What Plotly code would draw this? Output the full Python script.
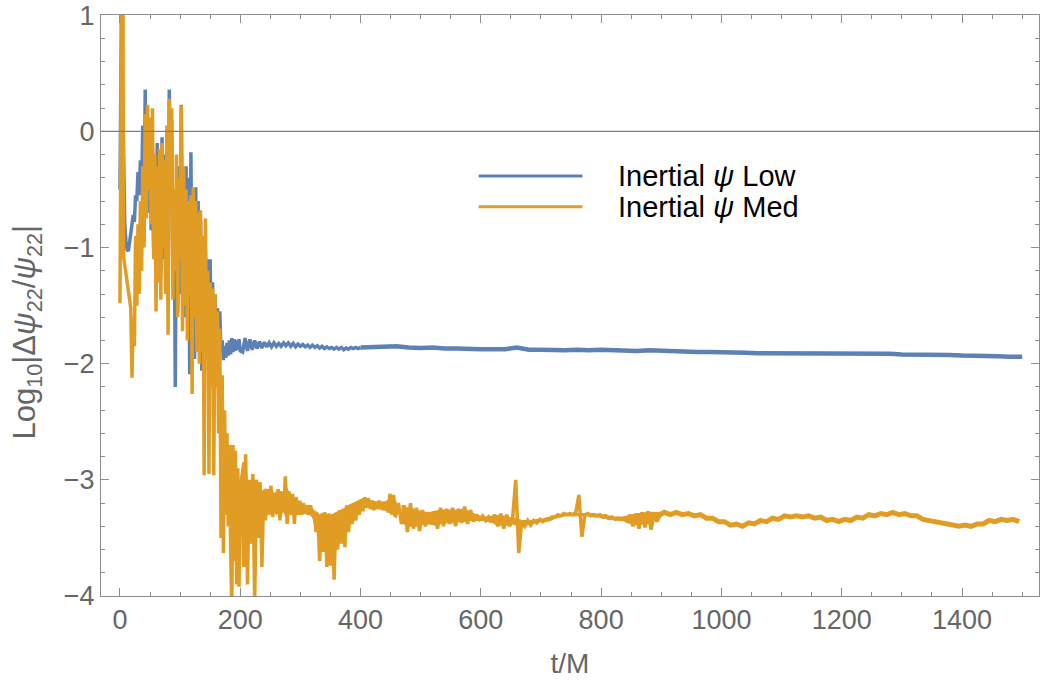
import numpy as np
import plotly.graph_objects as go

# ---------------- data: log10 |Δψ22/ψ22| versus t/M ----------------
# Inertial ψ, Low resolution
t_low_early = [0, 1, 3, 4, 5, 6] + list(range(8, 201, 2))
low_early = [
    -0.5, 1.3, 1.3, 0.45, 0.1, -0.5,
    -0.8, -0.95, -1.02, -1.03, -0.97, -0.88, -0.8, -0.72, -0.78, -0.55,
    -0.6, -0.35, -0.55, -0.25, -0.5, 0.05, -0.95, 0.36, -0.55, -0.2,
    -0.7, -0.1, -0.85, -0.15, -1.0, -0.2, -1.15, -0.1, -0.9, -0.3,
    -1.2, -0.05, -1.1, -0.2, -1.25, 0.0, -1.3, 0.36, -0.4, 0.1,
    -1.3, -0.5, -2.2, -0.6, -1.55, -0.3, -1.4, 0.23, -1.2, -0.4,
    -1.6, -0.3, -1.5, -0.4, -2.09, -0.18, -1.7, -0.5, -1.96, -0.48,
    -1.8, -0.6, -1.7, -0.77, -2.06, -0.9, -1.8, -1.0, -1.9, -1.1,
    -2.33, -1.1, -1.9, -1.3, -2.0, -1.4, -1.9, -1.52, -1.95, -1.55,
    -1.9, -1.8, -1.97, -1.85, -1.95, -1.82, -1.93, -1.8, -1.92, -1.78,
    -1.9, -1.79, -1.89, -1.8, -1.88, -1.79, -1.89,
]
t_low_mid = list(range(204, 401, 4))
low_mid = [
    -1.9, -1.78, -1.89, -1.79, -1.88, -1.8, -1.87, -1.81, -1.865, -1.815,
    -1.855, -1.82, -1.855, -1.82, -1.85, -1.825, -1.85, -1.82, -1.845, -1.82,
    -1.85, -1.825, -1.855, -1.83, -1.85, -1.835, -1.855, -1.84, -1.86, -1.84,
    -1.86, -1.845, -1.865, -1.85, -1.87, -1.855, -1.87, -1.86, -1.875, -1.86,
    -1.875, -1.86, -1.88, -1.865, -1.875, -1.86, -1.87, -1.86, -1.87, -1.86,
]
t_low_late = list(range(420, 1501, 20))
low_late = [
    -1.855, -1.85, -1.85, -1.86, -1.865, -1.86, -1.87, -1.87, -1.875, -1.875,
    -1.875, -1.875, -1.86, -1.88, -1.88, -1.885, -1.885, -1.88, -1.885, -1.88,
    -1.885, -1.89, -1.89, -1.885, -1.89, -1.895, -1.895, -1.9, -1.9, -1.9,
    -1.905, -1.905, -1.91, -1.91, -1.91, -1.91, -1.91, -1.91, -1.915, -1.915,
    -1.915, -1.915, -1.915, -1.915, -1.92, -1.92, -1.92, -1.925, -1.925, -1.93,
    -1.93, -1.935, -1.935, -1.94, -1.94,
]

# Inertial ψ, Medium resolution
t_med_early = [0, 1, 2, 3, 5, 6] + list(range(8, 201, 2))
med_early = [
    -1.48, 0.25, -0.5, 1.3, 1.3, -1.08,
    -1.15, -1.22, -1.3, -1.38, -1.45, -1.52, -2.12, -1.6, -1.85, -0.9,
    -1.5, -0.8, -1.4, -0.6, -1.2, -0.3, -1.0, 0.15, -0.75, 0.23,
    -0.5, 0.12, -0.8, 0.2, -1.1, -0.2, -1.55, -0.3, -1.3, -0.15,
    -1.45, -0.1, -1.0, -0.25, -1.4, 0.05, -1.75, 0.28, -0.6, 0.2,
    -1.45, -0.5, -1.2, -0.2, -1.6, -0.4, -1.1, 0.22, -1.72, -0.3,
    -1.5, -0.5, -1.8, -0.6, -1.4, -0.55, -2.26, -0.48, -1.6, -0.6,
    -1.9, -0.7, -2.0, -0.68, -1.9, -0.9, -2.96, -0.75, -1.95, -1.2,
    -2.95, -1.3, -2.2, -1.35, -2.96, -1.4, -2.2, -1.55, -2.6, -1.7,
    -3.5, -2.1, -3.63, -2.4, -3.3, -2.6, -3.4, -2.7, -3.6, -4.1,
    -2.7, -3.7, -2.75, -3.9, -2.9, -3.92, -3.0,
]
t_med_mid = list(range(203, 459, 3))
med_mid = [
    -3.05, -3.75, -2.78, -3.9, -3.0, -3.55, -2.95, -4.05, -3.0, -3.5,
    -3.02, -3.75, -3.1, -3.35, -3.08, -3.3, -3.05, -3.32, -3.12, -3.25,
    -3.08, -3.35, -3.1, -3.28, -2.97, -3.38, -3.1, -3.3, -3.12, -3.38,
    -3.15, -3.3, -3.18, -3.3, -3.2, -3.28, -3.22, -3.3, -3.22, -3.3,
    -3.27, -3.45, -3.3, -3.7, -3.3, -3.62, -3.28, -3.75, -3.32, -3.74,
    -3.3, -3.86, -3.3, -3.6, -3.26, -3.55, -3.25, -3.58, -3.22, -3.45,
    -3.25, -3.38, -3.2, -3.35, -3.22, -3.3, -3.17, -3.27, -3.15, -3.23,
    -3.16, -3.24, -3.18, -3.26, -3.19, -3.24, -3.18, -3.25, -3.2, -3.24,
    -3.19, -3.28, -3.12, -3.3, -3.13, -3.32,
]
t_med_tail = list(range(463, 899, 5))
med_tail = [
    -3.2, -3.38, -3.22, -3.45, -3.2, -3.42, -3.24, -3.44, -3.26, -3.4,
    -3.28, -3.38, -3.27, -3.42, -3.24, -3.4, -3.25, -3.38, -3.24, -3.4,
    -3.25, -3.37, -3.23, -3.38, -3.26, -3.36, -3.3, -3.34, -3.31, -3.35,
    -3.32, -3.36, -3.3, -3.4, -3.29, -3.42, -3.3, -3.4, -3.32, -3.0,
    -3.63, -3.36, -3.4, -3.35, -3.39, -3.35, -3.37, -3.34, -3.36, -3.34,
    -3.34, -3.32, -3.32, -3.3, -3.31, -3.29, -3.3, -3.29, -3.3, -3.28,
    -3.13, -3.49, -3.3, -3.29, -3.31, -3.3, -3.31, -3.3, -3.32, -3.31,
    -3.33, -3.32, -3.34, -3.33, -3.34, -3.33, -3.35, -3.3, -3.4, -3.29,
    -3.42, -3.28, -3.41, -3.27, -3.43, -3.29, -3.36, -3.3,
]
t_med_late = list(range(905, 1496, 10))
med_late = [
    -3.28, -3.30, -3.28, -3.30, -3.29, -3.31, -3.30, -3.33, -3.33, -3.36,
    -3.36, -3.39, -3.38, -3.40, -3.37, -3.38, -3.35, -3.36, -3.33, -3.34,
    -3.31, -3.32, -3.31, -3.32, -3.31, -3.33, -3.32, -3.35, -3.34, -3.36,
    -3.34, -3.35, -3.32, -3.33, -3.30, -3.31, -3.29, -3.30, -3.28, -3.30,
    -3.29, -3.31, -3.31, -3.34, -3.35, -3.37, -3.37, -3.39, -3.39, -3.40,
    -3.39, -3.40, -3.38, -3.38, -3.35, -3.36, -3.34, -3.35, -3.34, -3.36,
]

# dense oscillation core of the Med run (upper / lower edge of the filled band)
t_core_a = list(range(200, 461, 4))
core_a_hi = [
    -3.0, -2.85, -2.85, -3.0, -3.05, -3.0, -3.02, -3.0, -3.05, -3.1,
    -3.08, -3.08, -3.1, -3.08, -3.12, -3.1, -3.1, -3.1, -3.12, -3.05,
    -3.1, -3.12, -3.14, -3.16, -3.18, -3.2, -3.21, -3.22, -3.22, -3.23,
    -3.25, -3.27, -3.28, -3.3, -3.29, -3.28, -3.3, -3.29, -3.3, -3.29,
    -3.28, -3.27, -3.26, -3.25, -3.23, -3.22, -3.21, -3.2, -3.19, -3.18,
    -3.17, -3.16, -3.16, -3.17, -3.18, -3.18, -3.19, -3.19, -3.19, -3.19,
    -3.19, -3.18, -3.16, -3.16, -3.17, -3.19,
]
core_a_lo = [
    -3.3, -3.4, -3.45, -3.5, -3.45, -3.4, -3.4, -3.35, -3.38, -3.35,
    -3.33, -3.3, -3.28, -3.3, -3.27, -3.3, -3.28, -3.3, -3.27, -3.32,
    -3.28, -3.3, -3.3, -3.3, -3.29, -3.29, -3.29, -3.29, -3.3, -3.3,
    -3.32, -3.38, -3.45, -3.5, -3.5, -3.55, -3.55, -3.58, -3.55, -3.6,
    -3.52, -3.5, -3.45, -3.45, -3.4, -3.37, -3.34, -3.32, -3.3, -3.28,
    -3.27, -3.26, -3.24, -3.24, -3.25, -3.25, -3.25, -3.25, -3.25, -3.26,
    -3.26, -3.27, -3.28, -3.29, -3.31, -3.33,
]
t_core_b = list(range(468, 901, 8))
core_b_hi = [
    -3.22, -3.24, -3.24, -3.26, -3.27, -3.28, -3.28, -3.27, -3.26, -3.26,
    -3.26, -3.26, -3.26, -3.25, -3.27, -3.29, -3.31, -3.32, -3.32, -3.31,
    -3.31, -3.31, -3.32, -3.33, -3.33, -3.35, -3.35, -3.35, -3.34, -3.34,
    -3.33, -3.32, -3.31, -3.3, -3.29, -3.29, -3.29, -3.29, -3.29, -3.29,
    -3.29, -3.3, -3.3, -3.31, -3.32, -3.32, -3.32, -3.31, -3.3, -3.29,
    -3.29, -3.28, -3.28, -3.28, -3.28,
]
core_b_lo = [
    -3.36, -3.4, -3.4, -3.4, -3.39, -3.38, -3.38, -3.39, -3.38, -3.37,
    -3.37, -3.37, -3.36, -3.36, -3.35, -3.35, -3.35, -3.35, -3.36, -3.37,
    -3.39, -3.39, -3.39, -3.38, -3.39, -3.39, -3.39, -3.38, -3.37, -3.36,
    -3.36, -3.35, -3.33, -3.32, -3.31, -3.31, -3.31, -3.31, -3.31, -3.31,
    -3.32, -3.32, -3.33, -3.34, -3.34, -3.35, -3.35, -3.37, -3.38, -3.39,
    -3.38, -3.38, -3.37, -3.34, -3.32,
]

pairs = [(t_low_early, low_early), (t_low_mid, low_mid), (t_low_late, low_late),
         (t_med_early, med_early), (t_med_mid, med_mid), (t_med_tail, med_tail),
         (t_med_late, med_late), (t_core_a, core_a_hi), (t_core_a, core_a_lo),
         (t_core_b, core_b_hi), (t_core_b, core_b_lo)]
for tt, vv in pairs:
    assert len(tt) == len(vv), (len(tt), len(vv))

# noisy part and the settled tail of each run
t_low_a = t_low_early + t_low_mid
psi_low_a = low_early + low_mid
t_med_a = t_med_early + t_med_mid + t_med_tail
psi_med_a = med_early + med_mid + med_tail

series_names = ["Inertial <i>ψ</i> Low", "Inertial <i>ψ</i> Med"]
series_colors = ["#5E81B5", "#E19C24"]

x_ticks = [0, 200, 400, 600, 800, 1000, 1200, 1400]
y_ticks = [-4, -3, -2, -1, 0, 1]


def fmt(v):
    return ("\u2212" + str(-v)) if v < 0 else str(v)


# ---------------- figure ----------------
fig = go.Figure()
fig.add_trace(go.Scatter(x=t_low_a, y=psi_low_a, mode="lines",
                         line=dict(color=series_colors[0], width=3.5),
                         showlegend=False, hoverinfo="skip"))
fig.add_trace(go.Scatter(x=[t_low_mid[-1]] + t_low_late, y=[low_mid[-1]] + low_late,
                         mode="lines", line=dict(color=series_colors[0], width=4.5),
                         showlegend=False, hoverinfo="skip"))
for tt, hi, lo in [(t_core_a, core_a_hi, core_a_lo), (t_core_b, core_b_hi, core_b_lo)]:
    fig.add_trace(go.Scatter(x=tt, y=hi, mode="lines",
                             line=dict(color=series_colors[1], width=1),
                             showlegend=False, hoverinfo="skip"))
    fig.add_trace(go.Scatter(x=tt, y=lo, mode="lines", fill="tonexty",
                             fillcolor=series_colors[1],
                             line=dict(color=series_colors[1], width=1),
                             showlegend=False, hoverinfo="skip"))
fig.add_trace(go.Scatter(x=t_med_a, y=psi_med_a, mode="lines",
                         line=dict(color=series_colors[1], width=3.5),
                         showlegend=False, hoverinfo="skip"))
fig.add_trace(go.Scatter(x=[t_med_tail[-1]] + t_med_late, y=[med_tail[-1]] + med_late,
                         mode="lines", line=dict(color=series_colors[1], width=5),
                         showlegend=False, hoverinfo="skip"))

frame_col = "#8c8c8c"
font_family = "Liberation Sans, Arial, sans-serif"
label_font = dict(family=font_family, size=27, color="#666666")

fig.update_xaxes(
    range=[-31.5, 1528], tickvals=x_ticks, ticktext=[fmt(v) for v in x_ticks],
    ticks="inside", ticklen=8, tickwidth=1, tickcolor=frame_col,
    minor=dict(dtick=50, tick0=0, ticks="inside", ticklen=4, tickcolor=frame_col),
    showline=True, linecolor=frame_col, linewidth=1, mirror="allticks",
    showgrid=False, zeroline=False, tickfont=label_font,
    title=dict(text="t/M", font=dict(family=font_family, size=28, color="#666666"),
               standoff=18),
)
fig.update_yaxes(
    range=[-4, 1.002], tickvals=y_ticks, ticktext=[fmt(v) for v in y_ticks],
    ticks="inside", ticklen=8, tickwidth=1, tickcolor=frame_col,
    minor=dict(dtick=0.2, tick0=0, ticks="inside", ticklen=4, tickcolor=frame_col),
    showline=True, linecolor=frame_col, linewidth=1, mirror="allticks",
    showgrid=False, zeroline=False, tickfont=label_font, ticklabeloverflow="allow",
)

# vertical axis title
fig.add_annotation(
    xref="paper", yref="paper", x=-0.079, y=0.455, textangle=-90,
    text="Log<sub>10</sub>|Δ<i>ψ</i><sub>22</sub>/<i>ψ</i><sub>22</sub>|",
    showarrow=False, xanchor="center", yanchor="middle",
    font=dict(family=font_family, size=31, color="#666666"),
)

# horizontal axis at zero
fig.add_shape(type="line", xref="paper", yref="y", x0=0, x1=1, y0=0, y1=0,
              line=dict(color="#7f7f7f", width=1.2), layer="above")

# legend drawn as line samples plus labels
legend_rows = [0.7227, 0.670]
for name, col, yy in zip(series_names, series_colors, legend_rows):
    fig.add_shape(type="line", xref="paper", yref="paper", x0=0.4026, x1=0.5133,
                  y0=yy, y1=yy, line=dict(color=col, width=3))
    fig.add_annotation(xref="paper", yref="paper", x=0.5495, y=yy, text=name,
                       showarrow=False, xanchor="left", yanchor="middle",
                       font=dict(family=font_family, size=29, color="#000000"))

fig.update_layout(
    width=1041, height=682,
    margin=dict(l=101, r=1, t=13, b=86),
    plot_bgcolor="white", paper_bgcolor="white",
    showlegend=False,
)

fig.write_html("out.html")
